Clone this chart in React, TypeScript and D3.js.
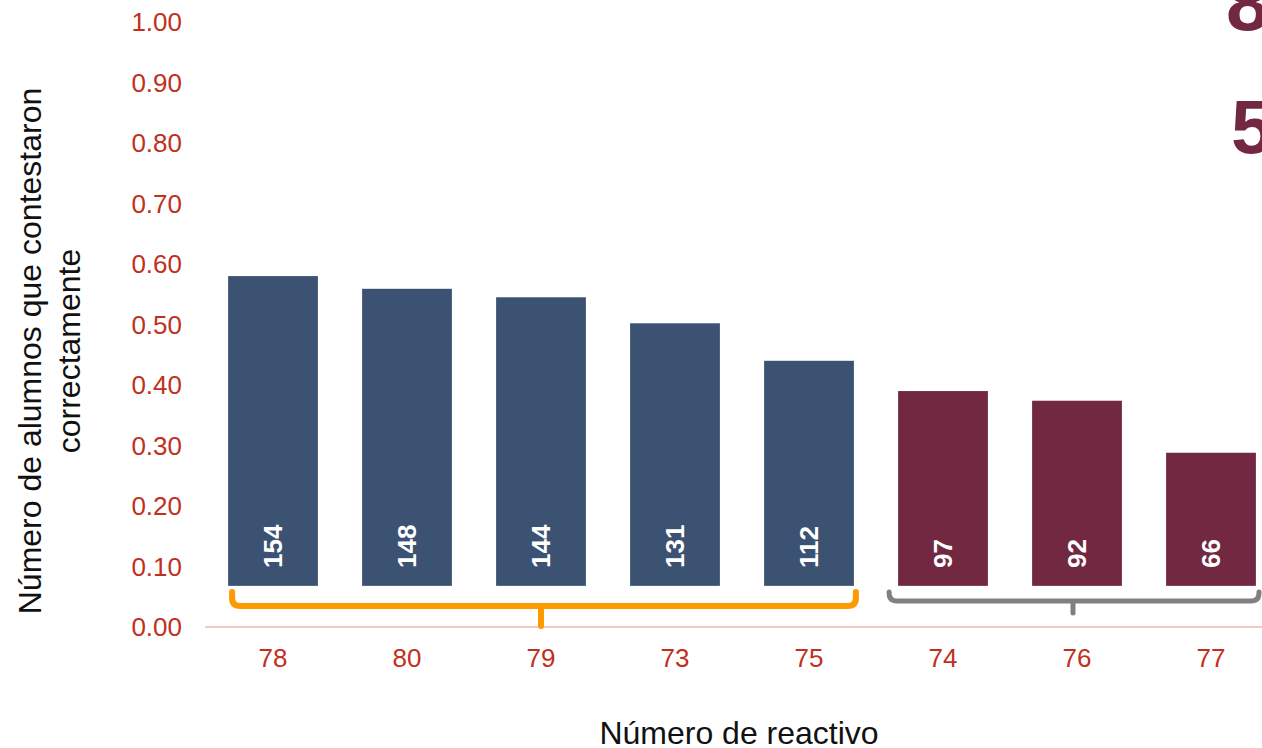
import * as d3 from 'd3';
import { useEffect, useRef } from 'react';

const items = ['78', '80', '79', '73', '75', '74', '76', '77'];
const shares = [0.58, 0.559, 0.545, 0.502, 0.44, 0.39, 0.374, 0.288];
const students = [154, 148, 144, 131, 112, 97, 92, 66];
const groups = ['a', 'a', 'a', 'a', 'a', 'b', 'b', 'b'];
const yTicks = [0, 0.1, 0.2, 0.3, 0.4, 0.5, 0.6, 0.7, 0.8, 0.9, 1.0];

export default function App() {
  const ref = useRef<SVGSVGElement | null>(null);

  useEffect(() => {
    const svg = d3.select(ref.current);
    const width = 1262;
    const height = 748;
    svg.selectAll('*').remove();
    svg.attr('width', width).attr('height', height);

    const font = '"Liberation Sans", Arial, sans-serif';
    const red = '#c0301c';
    const colors: Record<string, string> = { a: '#3b5273', b: '#722840' };

    const x = d3.scaleBand().domain(items).range([206, 1278]).paddingInner(0.33).paddingOuter(0.165);
    const y = d3.scaleLinear().domain([0, 1]).range([627, 22]);

    // y tick labels
    svg.append('g')
      .selectAll('text')
      .data(yTicks)
      .join('text')
      .attr('x', 182)
      .attr('y', d => y(d))
      .attr('dy', '0.35em')
      .attr('text-anchor', 'end')
      .attr('font-family', font)
      .attr('font-size', 26)
      .attr('fill', red)
      .text(d => d.toFixed(2));

    // bars
    svg.append('g')
      .selectAll('rect')
      .data(items)
      .join('rect')
      .attr('x', d => x(d)!)
      .attr('width', x.bandwidth())
      .attr('y', (_, i) => y(shares[i]))
      .attr('height', (_, i) => y(0) - y(shares[i]))
      .attr('fill', (_, i) => colors[groups[i]]);

    // white cover under bars
    svg.append('rect')
      .attr('x', 200).attr('y', y(0.068))
      .attr('width', width - 200).attr('height', y(0) - y(0.068) - 1)
      .attr('fill', '#fff');

    // baseline
    svg.append('line')
      .attr('x1', 205).attr('x2', width)
      .attr('y1', y(0)).attr('y2', y(0))
      .attr('stroke', '#f8c8c0').attr('stroke-width', 2);

    // value labels
    svg.append('g')
      .selectAll('text')
      .data(items)
      .join('text')
      .attr('transform', d => `translate(${x(d)! + x.bandwidth() / 2},${568}) rotate(-90)`)
      .attr('dy', '0.35em')
      .attr('font-family', font)
      .attr('font-size', 26)
      .attr('font-weight', 'bold')
      .attr('fill', '#fff')
      .text((_, i) => students[i]);

    // braces
    const brace = (x0: number, x1: number, xm: number, yTop: number, yLine: number, yTip: number, color: string, w: number) => {
      const r = 8;
      const p = d3.path();
      p.moveTo(x0, yTop);
      p.lineTo(x0, yLine - r);
      p.quadraticCurveTo(x0, yLine, x0 + r, yLine);
      p.lineTo(x1 - r, yLine);
      p.quadraticCurveTo(x1, yLine, x1, yLine - r);
      p.lineTo(x1, yTop);
      p.moveTo(xm, yLine);
      p.lineTo(xm, yTip);
      svg.append('path')
        .attr('d', p.toString())
        .attr('fill', 'none')
        .attr('stroke', color)
        .attr('stroke-width', w)
        .attr('stroke-linecap', 'round')
        .attr('stroke-linejoin', 'round');
    };
    brace(x('78')! + 4, x('75')! + x.bandwidth() + 2, x('79')! + x.bandwidth() / 2, 592, 606, 626, '#ff9900', 6);
    brace(x('74')! - 9, 1259, x('76')! + x.bandwidth() / 2 - 4, 592, 601, 613, '#808080', 5);

    // x tick labels
    svg.append('g')
      .selectAll('text')
      .data(items)
      .join('text')
      .attr('x', d => x(d)! + x.bandwidth() / 2)
      .attr('y', 658)
      .attr('dy', '0.35em')
      .attr('text-anchor', 'middle')
      .attr('font-family', font)
      .attr('font-size', 26)
      .attr('fill', red)
      .text(d => d);

    // axis titles
    svg.append('text')
      .attr('x', 739).attr('y', 733)
      .attr('dy', '0.35em')
      .attr('text-anchor', 'middle')
      .attr('font-family', font)
      .attr('font-size', 32)
      .attr('fill', '#111')
      .text('Número de reactivo');

    const yt = svg.append('text')
      .attr('transform', 'translate(30,351) rotate(-90)')
      .attr('text-anchor', 'middle')
      .attr('font-family', font)
      .attr('font-size', 32)
      .attr('fill', '#111');
    yt.append('tspan').attr('x', 0).attr('dy', '0.35em').text('Número de alumnos que contestaron');
    yt.append('tspan').attr('x', 0).attr('dy', '1.2em').text('correctamente');

    // big digits at top right
    svg.append('text')
      .attr('x', 1226).attr('y', 30)
      .attr('font-family', font)
      .attr('font-size', 78)
      .attr('font-weight', 'bold')
      .attr('fill', '#722840')
      .text('8');
    svg.append('text')
      .attr('x', 1231).attr('y', 153)
      .attr('font-family', font)
      .attr('font-size', 76)
      .attr('font-weight', 'bold')
      .attr('fill', '#722840')
      .text('5');
  }, []);

  return <svg ref={ref} style={{ position: 'absolute', left: 0, top: 0 }}></svg>;
}
